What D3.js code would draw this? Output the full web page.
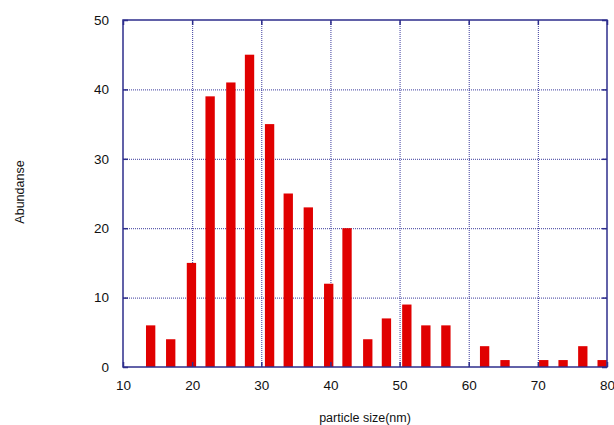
<html>
<head>
<script src="https://d3js.org/d3.v7.min.js"></script>
<style>
  body { margin: 0; background: #fff; }
  text { font-family: "Liberation Sans", Arial, sans-serif; fill: #111; }
  .gridlines line { stroke: #3a3a9c; stroke-dasharray: 1,1; }
  .gridlines .domain { stroke: none; }
  .axis .domain { stroke: none; }
  .axis line { stroke: #2e2e8c; stroke-width: 1.5; }
</style>
</head>
<body>
<svg id="hist" width="614" height="425"></svg>
<script>
// particle size bin centres (nm) and counts
const sizes  = [14.0, 16.9, 19.9, 22.6, 25.6, 28.3, 31.2, 33.9, 36.8, 39.75, 42.4,
                45.4, 48.1, 51.05, 53.8, 56.7, 62.3, 65.25, 70.85, 73.65, 76.5, 79.3];
const counts = [6, 4, 15, 39, 41, 45, 35, 25, 23, 12, 20,
                4, 7, 9, 6, 6, 3, 1, 1, 1, 3, 1];
const xTicks = [10, 20, 30, 40, 50, 60, 70, 80];
const yTicks = [0, 10, 20, 30, 40, 50];
const barWidth = 1.35; // in nm

const margin = { top: 20, right: 7, bottom: 58, left: 123 };
const svg = d3.select('svg#hist');
const width = +svg.attr('width');
const height = +svg.attr('height');
const chartWidth = width - margin.left - margin.right;
const chartHeight = height - margin.top - margin.bottom;

const x = d3.scaleLinear().domain([10, 80]).range([0, chartWidth]);
const y = d3.scaleLinear().domain([0, 50]).range([chartHeight, 0]);

const chart = svg.append('g')
  .attr('transform', `translate(${margin.left},${margin.top})`);

// dotted grid
chart.append('g')
  .attr('class', 'gridlines')
  .call(d3.axisLeft(y).tickValues(yTicks.slice(1, -1)).tickSize(-chartWidth).tickFormat(''));
chart.append('g')
  .attr('class', 'gridlines')
  .attr('transform', `translate(0,${chartHeight})`)
  .call(d3.axisBottom(x).tickValues(xTicks.slice(1, -1)).tickSize(-chartHeight).tickFormat(''));

// bars
const bw = x(10 + barWidth) - x(10);
chart.selectAll('rect.bar')
  .data(sizes)
  .join('rect')
  .attr('class', 'bar')
  .attr('x', d => x(d) - bw / 2)
  .attr('width', bw)
  .attr('y', (d, i) => y(counts[i]))
  .attr('height', (d, i) => chartHeight - y(counts[i]))
  .attr('fill', '#e00000');

// ticks inside frame on all sides
chart.append('g').attr('class', 'axis')
  .attr('transform', `translate(0,${chartHeight})`)
  .call(d3.axisBottom(x).tickValues(xTicks).tickSize(-5).tickPadding(13));
chart.append('g').attr('class', 'axis')
  .call(d3.axisTop(x).tickValues(xTicks).tickSize(-5).tickFormat(''));
chart.append('g').attr('class', 'axis')
  .call(d3.axisLeft(y).tickValues(yTicks).tickSize(-5).tickPadding(14));
chart.append('g').attr('class', 'axis')
  .attr('transform', `translate(${chartWidth},0)`)
  .call(d3.axisRight(y).tickValues(yTicks).tickSize(-5).tickFormat(''));

chart.selectAll('.axis text').style('font-size', '13.5px').attr('fill', '#111');

// frame
chart.append('rect')
  .attr('width', chartWidth)
  .attr('height', chartHeight)
  .attr('fill', 'none')
  .attr('stroke', '#2e2e8c')
  .attr('stroke-width', 1.5);

// axis titles
svg.append('text')
  .attr('x', margin.left + chartWidth * 0.5)
  .attr('y', 422)
  .attr('text-anchor', 'middle')
  .style('font-size', '12.5px')
  .text('particle size(nm)');

svg.append('text')
  .attr('transform', 'translate(24,192) rotate(-90)')
  .attr('text-anchor', 'middle')
  .style('font-size', '12.5px')
  .text('Abundanse');
</script>
</body>
</html>
